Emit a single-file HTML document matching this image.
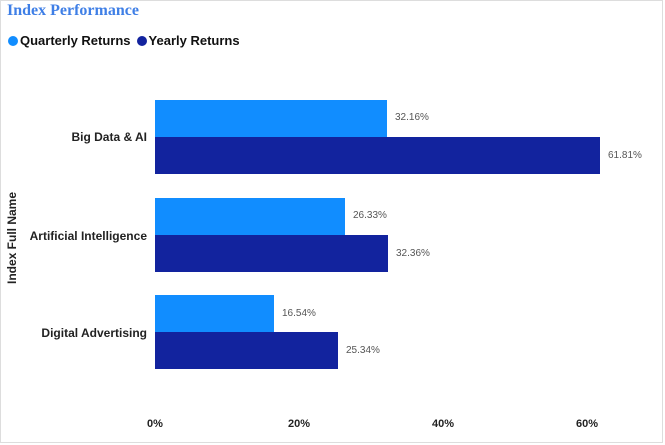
<!DOCTYPE html>
<html><head><style>
body{margin:0;width:665px;height:445px;background:#fff;position:relative;overflow:hidden;font-family:"Liberation Sans",sans-serif}
.card{position:absolute;left:0;top:0;width:661px;height:441px;border:1px solid #ddd}
.t{position:absolute}
.bar{position:absolute;left:155px;height:37px}
.q{background:#118dff}.y{background:#12239e}
.v{position:absolute;font-size:10px;color:#555}
.cat{position:absolute;right:518px;font-size:12px;font-weight:bold;color:#222;white-space:nowrap}
.x{position:absolute;top:418px;font-size:11px;font-weight:bold;color:#222;transform:translateX(-50%)}
</style></head><body>
<div class="card"></div>
<div class="t" style="left:7px;top:2px;font-family:'Liberation Serif',serif;font-weight:bold;font-size:16px;color:#3f7fe6">Index Performance</div>
<div class="t" style="left:8px;top:33px;font-size:13px;font-weight:bold;color:#111;display:flex;align-items:center">
<span style="width:10px;height:10px;border-radius:50%;background:#118dff;display:inline-block;margin-right:2px"></span>Quarterly Returns
<span style="width:10px;height:10px;border-radius:50%;background:#12239e;display:inline-block;margin:0 2px 0 6px"></span>Yearly Returns</div>
<div class="t" style="left:12px;top:238px;font-size:12px;font-weight:bold;color:#222;transform:translate(-50%,-50%) rotate(-90deg);transform-origin:center;white-space:nowrap;margin-left:0">Index Full Name</div>

<div class="bar q" style="top:100px;width:232px"></div><div class="v" style="left:395px;top:112px">32.16%</div>
<div class="bar y" style="top:137px;width:445px"></div><div class="v" style="left:608px;top:150px">61.81%</div>
<div class="bar q" style="top:198px;width:190px"></div><div class="v" style="left:353px;top:210px">26.33%</div>
<div class="bar y" style="top:235px;width:233px"></div><div class="v" style="left:396px;top:248px">32.36%</div>
<div class="bar q" style="top:295px;width:119px"></div><div class="v" style="left:282px;top:308px">16.54%</div>
<div class="bar y" style="top:332px;width:183px"></div><div class="v" style="left:346px;top:345px">25.34%</div>

<div class="cat" style="top:130px">Big Data &amp; AI</div>
<div class="cat" style="top:229px">Artificial Intelligence</div>
<div class="cat" style="top:326px">Digital Advertising</div>

<div class="x" style="left:155px">0%</div>
<div class="x" style="left:299px">20%</div>
<div class="x" style="left:443px">40%</div>
<div class="x" style="left:587px">60%</div>
</body></html>
